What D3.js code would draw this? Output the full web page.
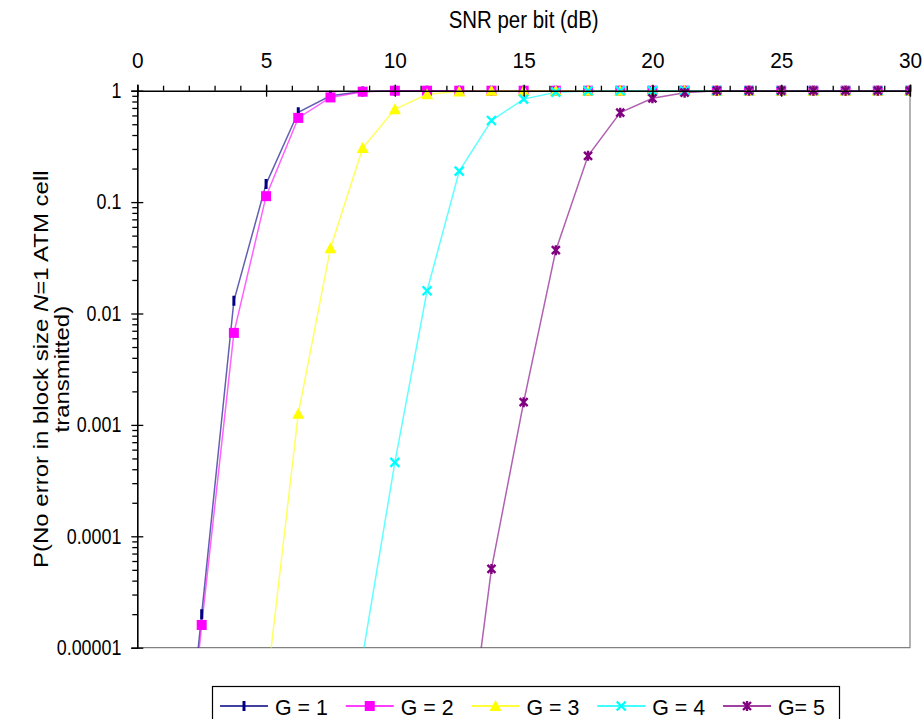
<!DOCTYPE html>
<html>
<head>
<meta charset="utf-8">
<script src="https://d3js.org/d3.v7.min.js"></script>
<style>
    body { margin: 0; background: #fff; }
    svg { display: block; font-family: "Liberation Sans", Arial, sans-serif; }
</style>
</head>
<body>
<div id="chart"></div>
<script>

// SNR per bit (dB) of each computed point
let snr = [1.25, 2.5, 3.75, 5, 6.25, 7.5, 8.75, 10, 11.25, 12.5, 13.75, 15,
           16.25, 17.5, 18.75, 20, 21.25, 22.5, 23.75, 25, 26.25, 27.5, 28.75, 30];

// P(no error) (null = not plotted)
let g1 = [3e-8, 2e-5, 0.013, 0.145, 0.64, 0.9, 0.985, 1, 1, 1, 1, 1,
          1, 1, 1, 1, 1, 1, 1, 1, 1, 1, 1, 1];
let g2 = [2.5e-8, 1.6e-5, 0.0067, 0.113, 0.57, 0.87, 0.98, 1, 1, 1, 1, 1,
          1, 1, 1, 1, 1, 1, 1, 1, 1, 1, 1, 1];
let g3 = [null, null, null, 4e-6, 0.00126, 0.0386, 0.306, 0.68, 0.93, 0.985, 1, 1,
          1, 1, 1, 1, 1, 1, 1, 1, 1, 1, 1, 1];
let g4 = [null, null, null, null, null, null, 8.5e-6, 0.00046, 0.016, 0.19, 0.54, 0.84,
          0.97, 0.995, 1, 1, 1, 1, 1, 1, 1, 1, 1, 1];
let g5 = [null, null, null, null, null, null, null, null, null, 3e-7, 5.1e-5, 0.0016,
          0.037, 0.26, 0.635, 0.855, 0.96, 1, 1, 1, 1, 1, 1, 1];

let seriesNames = ["G = 1", "G = 2", "G = 3", "G = 4", "G= 5"];
let seriesValues = [g1, g2, g3, g4, g5];
let seriesColors = ["#000080", "#ff00ff", "#ffff00", "#00ffff", "#800080"];
let seriesMarkers = ["dash", "square", "triangle", "cross", "star"];

let xTicks = [0, 5, 10, 15, 20, 25, 30];
let yTicks = [1, 0.1, 0.01, 0.001, 0.0001, 0.00001];
let yTickLabels = ["1", "0.1", "0.01", "0.001", "0.0001", "0.00001"];


// text in the picture is a little narrower than the font
function squeeze(sel, sx) {
    sel.each(function() {
        let t = d3.select(this);
        let x = +t.attr("x") || 0;
        t.attr("transform", "translate(" + (x * (1 - sx)) + ",0) scale(" + sx + ",1)");
    });
}

let margin = {top: 90.7, right: 13, bottom: 71.3, left: 137.3};
let totalW = 923, totalH = 719;
let width = totalW - margin.left - margin.right;
let height = totalH - margin.top - margin.bottom;

let svg = d3.select("#chart").append("svg")
    .attr("width", totalW)
    .attr("height", totalH);

let g = svg.append("g")
    .attr("transform", "translate(" + margin.left + "," + margin.top + ")");

// scales
let x = d3.scaleLinear().domain([0, 30]).range([0, width]);
let y = d3.scaleLog().domain([0.00001, 1]).range([height, 0]);

svg.append("defs").append("clipPath")
    .attr("id", "plot-clip")
    .append("rect")
    .attr("x", 0).attr("y", -8)
    .attr("width", width + 1).attr("height", height + 8);

// plot area border (bottom and right in grey)
g.append("path")
    .attr("d", "M0," + height + "H" + width + "V0")
    .attr("fill", "none")
    .attr("stroke", "#808080")
    .attr("stroke-width", 1.2);

// lines
let line = d3.line()
    .defined(d => d.v !== null)
    .x(d => x(d.x))
    .y(d => y(d.v));

let plot = g.append("g").attr("clip-path", "url(#plot-clip)");

let series = seriesValues.map((vals, i) => ({
    name: seriesNames[i],
    color: seriesColors[i],
    marker: seriesMarkers[i],
    points: snr.map((s, j) => ({x: s, v: vals[j]}))
}));

// lines are thin and a bit see-through, so where they all sit on 1 the colours mix
plot.selectAll("path.series-line")
    .data(series)
    .enter()
    .append("path")
    .attr("class", "series-line")
    .attr("fill", "none")
    .attr("stroke", d => d.color)
    .attr("stroke-width", 1.5)
    .attr("stroke-opacity", 0.62)
    .attr("d", d => line(d.points));

// marker shapes
function drawMarker(sel, type, color) {
    if (type === "dash") {
        sel.append("path").attr("d", "M0,-5V5")
            .attr("stroke", color).attr("stroke-width", 3).attr("fill", "none");
    } else if (type === "square") {
        sel.append("rect").attr("x", -5).attr("y", -5).attr("width", 10).attr("height", 10)
            .attr("fill", color);
    } else if (type === "triangle") {
        sel.append("path").attr("d", "M0,-6L6,5H-6Z").attr("fill", color);
    } else if (type === "cross") {
        sel.append("path").attr("d", "M-4.5,-4.5L4.5,4.5M-4.5,4.5L4.5,-4.5")
            .attr("stroke", color).attr("stroke-width", 2.4).attr("fill", "none");
    } else if (type === "star") {
        sel.append("path").attr("d", "M-4,-4L4,4M-4,4L4,-4M0,-5V5")
            .attr("stroke", color).attr("stroke-width", 2.4).attr("fill", "none");
    }
}

series.forEach(s => {
    plot.append("g")
        .selectAll("g")
        .data(s.points.filter(p => p.v !== null))
        .enter()
        .append("g")
        .attr("transform", p => "translate(" + x(p.x) + "," + y(p.v) + ")")
        .each(function() { drawMarker(d3.select(this), s.marker, s.color); });
});

// x axis on top: minor ticks every 1 dB, majors crossing the line
let xMinor = d3.axisTop(x)
    .tickValues(d3.range(0, 31, 1))
    .tickSize(5)
    .tickFormat("");
g.append("g").attr("class", "x-minor").call(xMinor)
    .call(a => a.select(".domain").remove());

let xAxis = d3.axisTop(x)
    .tickValues(xTicks)
    .tickSize(6)
    .tickPadding(17)
    .tickFormat(d3.format("d"));
g.append("g").attr("class", "x-axis").call(xAxis);
g.selectAll(".x-axis .tick line").attr("y1", 6).attr("y2", -6);

// y axis: log minor ticks
let yMinorVals = [];
[0.00001, 0.0001, 0.001, 0.01, 0.1].forEach(dec => {
    for (let k = 2; k <= 9; k++) yMinorVals.push(dec * k);
});
let yMinor = d3.axisLeft(y).tickValues(yMinorVals).tickSize(5).tickFormat("");
g.append("g").attr("class", "y-minor").call(yMinor)
    .call(a => a.select(".domain").remove());

let yAxis = d3.axisLeft(y)
    .tickValues(yTicks)
    .tickSize(6)
    .tickPadding(10)
    .tickFormat((d, i) => yTickLabels[i]);
g.append("g").attr("class", "y-axis").call(yAxis);
g.selectAll(".y-axis .tick line").attr("x1", 6).attr("x2", -6);

g.selectAll(".x-minor line, .y-minor line, .x-axis line, .y-axis line, .domain")
    .attr("stroke", "#000").attr("stroke-width", 1.3);
g.selectAll(".x-axis .domain, .y-axis .domain").attr("stroke-width", 1.6);

g.selectAll(".x-axis text, .y-axis text")
    .attr("font-family", "Liberation Sans, Arial, sans-serif")
    .attr("font-size", 21.5)
    .attr("fill", "#000");
g.selectAll(".y-axis text").call(squeeze, 0.83);
g.selectAll(".x-axis text").attr("transform", "scale(0.97,1)");

// axis titles
let title = svg.append("text")
    .attr("x", margin.left + width / 2)
    .attr("y", 28)
    .attr("text-anchor", "middle")
    .attr("font-size", 23.5)
    .text("SNR per bit (dB)")
    .call(squeeze, 0.87);

let yTitle = svg.append("g")
    .attr("transform", "translate(0," + (margin.top + height / 2) + ") scale(0.86,1) rotate(-90)")
    .attr("font-size", 24)
    .attr("text-anchor", "middle");
let yt1 = yTitle.append("text").attr("x", 0).attr("y", 56);
yt1.append("tspan").text("P(No error in block size ");
yt1.append("tspan").attr("font-style", "italic").text("N");
yt1.append("tspan").text("=1 ATM cell");
yTitle.append("text").attr("x", 0).attr("y", 80).text("transmitted)");

// legend
let legend = svg.append("g").attr("class", "legend");
legend.append("rect")
    .attr("x", 212.5).attr("y", 686.5)
    .attr("width", 627).attr("height", 45)
    .attr("fill", "#fff")
    .attr("stroke", "#000")
    .attr("stroke-width", 1.2);

let legendX = d3.scaleLinear().domain([0, 4]).range([220, 723]);

let items = legend.selectAll("g.item")
    .data(series)
    .enter()
    .append("g")
    .attr("class", "item")
    .attr("transform", (d, i) => "translate(" + legendX(i) + ",706)");

items.append("path")
    .attr("d", "M0,0H48")
    .attr("stroke", d => d.color)
    .attr("stroke-width", 1.4);
items.append("g")
    .attr("transform", "translate(24,0)")
    .each(function(d) { drawMarker(d3.select(this), d.marker, d.color); });
items.append("text")
    .attr("x", 55)
    .attr("y", 9)
    .attr("font-size", 23)
    .text(d => d.name)
    .call(squeeze, 0.93);

</script>
</body>
</html>
